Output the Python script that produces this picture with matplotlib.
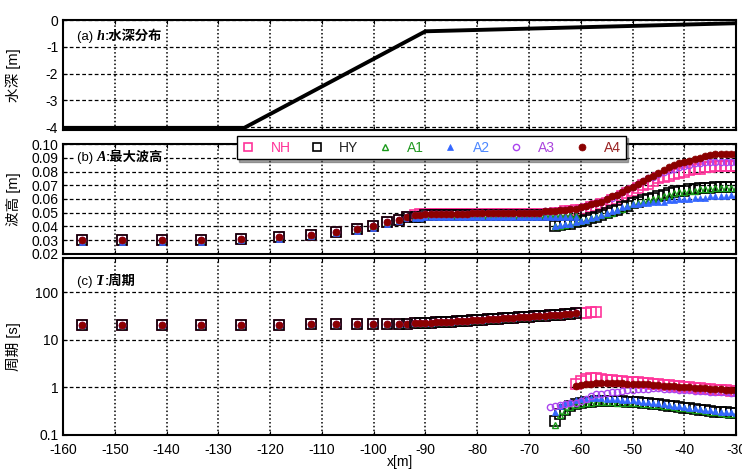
import numpy as np
import matplotlib
matplotlib.use('Agg')
import matplotlib.pyplot as plt
from matplotlib.lines import Line2D

plt.rcParams['font.family'] = ['Liberation Sans', 'Noto Sans CJK JP']

# (a) 水深分布
x_h = [-160, -125, -90, -30]
h = [-4.02, -4.02, -0.42, -0.12]

# 沖側の計測点
x_sparse = [-156.3, -148.6, -140.9, -133.3, -125.6, -118.3, -112.1, -107.3, -103.2, -100.1, -97.4, -95.1, -93.6]
A_sparse = [0.030, 0.030, 0.030, 0.030, 0.031, 0.032, 0.034, 0.036, 0.038, 0.040, 0.043, 0.045, 0.047]
A2_sparse = [0.029, 0.029, 0.029, 0.029, 0.030, 0.031, 0.033, 0.035, 0.037, 0.039, 0.042, 0.044, 0.046]
T_sparse = [20.0, 20.0, 20.0, 20.0, 20.3, 20.6, 20.9, 21.1, 21.3, 21.5, 21.7, 21.8, 21.9]

# 岸側の密な計測点
x_dense = [-92, -91, -90, -89, -88, -87, -86, -85, -84, -83,
           -82, -81, -80, -79, -78, -77, -76, -75, -74, -73,
           -72, -71, -70, -69, -68, -67, -66, -65, -64, -63,
           -62, -61, -60, -59, -58, -57, -56, -55, -54, -53,
           -52, -51, -50, -49, -48, -47, -46, -45, -44, -43,
           -42, -41, -40, -39, -38, -37, -36, -35, -34, -33,
           -32, -31, -30]
x_short = [-66, -65, -64, -63, -62, -61, -60, -59, -58, -57,
           -56, -55, -54, -53, -52, -51, -50, -49, -48, -47,
           -46, -45, -44, -43, -42, -41, -40, -39, -38, -37,
           -36, -35, -34, -33, -32, -31, -30]

# (b) 最大波高
NH_b = [0.048, 0.049, 0.049, 0.049, 0.049, 0.049, 0.049, 0.049, 0.049, 0.049,
        0.049, 0.049, 0.049, 0.049, 0.049, 0.049, 0.049, 0.049, 0.049, 0.049,
        0.049, 0.049, 0.049, 0.049, 0.049, 0.049, 0.049, 0.050, 0.050, 0.051,
        0.051, 0.052, 0.052, 0.053, 0.054, 0.055, 0.056, 0.057, 0.059, 0.060,
        0.062, 0.064, 0.066, 0.068, 0.070, 0.071, 0.073, 0.075, 0.076, 0.077,
        0.078, 0.079, 0.080, 0.081, 0.082, 0.082, 0.083, 0.083, 0.084, 0.084,
        0.084, 0.084, 0.084]
A3_b = [0.048, 0.048, 0.049, 0.049, 0.049, 0.049, 0.049, 0.049, 0.049, 0.049,
        0.049, 0.050, 0.050, 0.050, 0.050, 0.050, 0.050, 0.050, 0.050, 0.050,
        0.050, 0.050, 0.050, 0.050, 0.050, 0.051, 0.051, 0.051, 0.052, 0.052,
        0.053, 0.053, 0.054, 0.055, 0.056, 0.057, 0.058, 0.060, 0.061, 0.063,
        0.065, 0.067, 0.069, 0.071, 0.073, 0.075, 0.076, 0.078, 0.080, 0.081,
        0.082, 0.083, 0.084, 0.085, 0.086, 0.086, 0.087, 0.087, 0.087, 0.087,
        0.087, 0.087, 0.087]
A4_b = [0.048, 0.048, 0.049, 0.049, 0.049, 0.049, 0.049, 0.049, 0.049, 0.049,
        0.049, 0.050, 0.050, 0.050, 0.050, 0.050, 0.050, 0.050, 0.050, 0.050,
        0.050, 0.050, 0.050, 0.050, 0.050, 0.051, 0.051, 0.051, 0.052, 0.052,
        0.053, 0.053, 0.054, 0.055, 0.056, 0.057, 0.058, 0.060, 0.062, 0.063,
        0.065, 0.067, 0.069, 0.071, 0.073, 0.075, 0.077, 0.079, 0.081, 0.083,
        0.085, 0.086, 0.087, 0.088, 0.089, 0.090, 0.091, 0.092, 0.093, 0.093,
        0.093, 0.093, 0.093]
HY_b_long = [0.047, 0.047, 0.048, 0.048, 0.048, 0.048, 0.048, 0.048, 0.048, 0.048,
             0.048, 0.048, 0.048, 0.048, 0.048, 0.048, 0.048, 0.048, 0.048, 0.048,
             0.048, 0.048, 0.048, 0.048, 0.048, 0.048, 0.048, 0.048, 0.048, 0.048,
             0.048, 0.048]
A2_b_long = [0.046, 0.046, 0.047, 0.047, 0.047, 0.047, 0.047, 0.047, 0.047, 0.047,
             0.047, 0.047, 0.047, 0.047, 0.047, 0.047, 0.047, 0.047, 0.047, 0.047,
             0.047, 0.047, 0.047, 0.047, 0.047, 0.047, 0.047, 0.047, 0.047, 0.047,
             0.047, 0.047]
HY_b_short = [0.040, 0.041, 0.042, 0.042, 0.043, 0.044, 0.045, 0.046, 0.047, 0.048,
              0.050, 0.051, 0.052, 0.054, 0.055, 0.057, 0.058, 0.059, 0.060, 0.061,
              0.062, 0.063, 0.064, 0.065, 0.066, 0.066, 0.067, 0.067, 0.068, 0.068,
              0.068, 0.069, 0.069, 0.069, 0.069, 0.069]
A1_b_short = [0.040, 0.040, 0.041, 0.042, 0.043, 0.044, 0.045, 0.046, 0.047, 0.048,
              0.049, 0.050, 0.052, 0.053, 0.055, 0.056, 0.057, 0.058, 0.059, 0.060,
              0.061, 0.062, 0.063, 0.064, 0.065, 0.065, 0.066, 0.066, 0.067, 0.067,
              0.067, 0.068, 0.068, 0.068, 0.068, 0.068]
A2_b_short = [0.040, 0.041, 0.042, 0.042, 0.043, 0.044, 0.045, 0.046, 0.047, 0.048,
              0.050, 0.051, 0.052, 0.054, 0.055, 0.056, 0.056, 0.057, 0.057, 0.058,
              0.058, 0.058, 0.059, 0.059, 0.060, 0.060, 0.060, 0.061, 0.061, 0.061,
              0.062, 0.062, 0.062, 0.062, 0.063, 0.063]

# (c) 周期
T_long = [22.0, 22.3, 22.6, 22.9, 23.2, 23.5, 23.8, 24.1, 24.5, 24.9,
          25.3, 25.7, 26.1, 26.5, 26.9, 27.3, 27.7, 28.1, 28.6, 29.1,
          29.6, 30.1, 30.6, 31.1, 31.6, 32.1, 32.6, 33.2, 33.8, 34.4,
          35.0, 35.6]
NH_T_long = [22.0, 22.3, 22.6, 22.9, 23.2, 23.5, 23.8, 24.1, 24.5, 24.9,
             25.3, 25.7, 26.1, 26.5, 26.9, 27.3, 27.7, 28.1, 28.6, 29.1,
             29.6, 30.1, 30.6, 31.1, 31.6, 32.1, 32.6, 33.2, 33.8, 34.4,
             35.0, 35.6, 36.2, 36.8, 37.4, 38.0]
HY_T_short = [0.20, 0.28, 0.34, 0.40, 0.44, 0.47, 0.49, 0.50, 0.51, 0.52,
              0.52, 0.52, 0.51, 0.51, 0.50, 0.50, 0.49, 0.48, 0.46, 0.45,
              0.44, 0.42, 0.41, 0.40, 0.38, 0.37, 0.36, 0.35, 0.34, 0.33,
              0.32, 0.31, 0.30, 0.30, 0.29, 0.29]
A1_T_short = [0.16, 0.26, 0.32, 0.38, 0.42, 0.45, 0.47, 0.48, 0.49, 0.49,
              0.49, 0.49, 0.48, 0.48, 0.47, 0.47, 0.46, 0.45, 0.44, 0.43,
              0.42, 0.41, 0.40, 0.38, 0.37, 0.36, 0.35, 0.34, 0.33, 0.32,
              0.31, 0.30, 0.29, 0.28, 0.28, 0.27]
A2_T_short = [0.30, 0.40, 0.46, 0.50, 0.54, 0.56, 0.58, 0.59, 0.59, 0.59,
              0.58, 0.57, 0.56, 0.55, 0.54, 0.53, 0.52, 0.50, 0.49, 0.47,
              0.46, 0.44, 0.43, 0.41, 0.40, 0.38, 0.37, 0.36, 0.35, 0.34,
              0.33, 0.32, 0.31, 0.30, 0.30, 0.29]
A3_T_short = [0.38, 0.40, 0.42, 0.44, 0.46, 0.48, 0.52, 0.58, 0.65, 0.71,
              0.74, 0.76, 0.78, 0.80, 0.83, 0.87, 0.90, 0.92, 0.93, 0.94,
              0.95, 0.95, 0.94, 0.93, 0.92, 0.90, 0.88, 0.87, 0.85, 0.84,
              0.82, 0.81, 0.80, 0.79, 0.78, 0.77, 0.76]
NH_T_short = [1.15, 1.35, 1.50, 1.55, 1.55, 1.50, 1.45, 1.42, 1.38, 1.35,
              1.32, 1.30, 1.28, 1.25, 1.22, 1.18, 1.15, 1.12, 1.10, 1.07,
              1.05, 1.02, 1.00, 0.98, 0.96, 0.94, 0.92, 0.90, 0.88, 0.86,
              0.84, 0.83]
A4_T_short = [1.05, 1.12, 1.17, 1.20, 1.22, 1.23, 1.23, 1.23, 1.22, 1.21,
              1.20, 1.19, 1.18, 1.16, 1.15, 1.13, 1.11, 1.09, 1.07, 1.05,
              1.03, 1.01, 1.00, 0.98, 0.96, 0.95, 0.93, 0.92, 0.91, 0.90,
              0.89, 0.88]

names = ['NH', 'HY', 'A1', 'A2', 'A3', 'A4']
text_colors = ['#ff3399', '#222222', '#229922', '#4d88ff', '#aa44dd', '#992222']
styles = {
    'NH': dict(marker='s', mfc='none', mec='#ff3399', ms=7.5, mew=1.2),
    'HY': dict(marker='s', mfc='none', mec='black', ms=6.5, mew=1.2),
    'A1': dict(marker='^', mfc='none', mec='#1a9a1a', ms=4, mew=1.0),
    'A2': dict(marker='^', mfc='#3366ff', mec='#3366ff', ms=4.5, mew=0.5),
    'A3': dict(marker='o', mfc='none', mec='#aa44ee', ms=4.5, mew=1.0),
    'A4': dict(marker='o', mfc='#8b0000', mec='#8b0000', ms=5, mew=0.5),
}


def pts(ax, x, y, name):
    ax.plot(x, y, ls='none', **styles[name])


def tail(x, vals):
    # 岸側端(-30m)にそろえる
    return x[len(x) - len(vals):]


def panel_title(ax, prefix, sym, name, y):
    t1 = ax.text(0.02, y, prefix, transform=ax.transAxes, fontsize=9.5, va='center',
                 bbox=dict(fc='white', ec='none', pad=0.5), zorder=6)
    t2 = ax.annotate(sym, xy=(1, 0), xycoords=t1, va='bottom', fontsize=10.5,
                     family='Liberation Serif', style='italic', weight='bold',
                     bbox=dict(fc='white', ec='none', pad=0.5), zorder=6)
    ax.annotate(name, xy=(1, 0), xycoords=t2, va='bottom', fontsize=9.5, weight='bold',
                bbox=dict(fc='white', ec='none', pad=0.5), zorder=6)


def style_axes(ax):
    ax.set_xlim(-160, -30)
    ax.set_xticks(np.arange(-160, -29, 10))
    ax.yaxis.grid(True, which='major', ls=(0, (3, 2)), color='k', lw=0.9)
    ax.xaxis.grid(True, which='major', ls=(0, (1, 1.5)), color='k', lw=1.1)
    ax.tick_params(direction='in', top=True, right=True, labelsize=10, length=3)
    ax.tick_params(axis='x', pad=6)
    for s in ax.spines.values():
        s.set_linewidth(1.5)
    ax.set_axisbelow(True)


fig = plt.figure(figsize=(7.42, 4.70), dpi=100)
L, W = 0.085, 0.907
ax_a = fig.add_axes([L, 0.7234, W, 0.234])
ax_b = fig.add_axes([L, 0.4596, W, 0.234])
ax_c = fig.add_axes([L, 0.0745, W, 0.3766])

# (a)
style_axes(ax_a)
ax_a.plot(x_h, h, color='black', lw=2.8)
ax_a.set_ylim(-4.1, 0)
ax_a.set_yticks([0, -1, -2, -3, -4])
ax_a.set_yticklabels(['0', '-1', '-2', '-3', '-4'])
ax_a.set_xticklabels([])
ax_a.set_ylabel('水深 [m]', fontsize=10.5)
ax_a.yaxis.set_label_coords(-0.062, 0.5)
panel_title(ax_a, '(a) ', 'h', ':水深分布', 0.845)

# (b)
style_axes(ax_b)
sparse_b = {'NH': A_sparse, 'HY': A_sparse, 'A1': A_sparse, 'A2': A2_sparse, 'A3': A_sparse, 'A4': A_sparse}
for n in names:
    pts(ax_b, x_sparse, sparse_b[n], n)
pts(ax_b, x_dense, NH_b, 'NH')
pts(ax_b, x_dense[:len(HY_b_long)], HY_b_long, 'HY')
pts(ax_b, tail(x_short, HY_b_short), HY_b_short, 'HY')
pts(ax_b, x_dense[:len(HY_b_long)], HY_b_long, 'A1')
pts(ax_b, tail(x_short, A1_b_short), A1_b_short, 'A1')
pts(ax_b, x_dense[:len(A2_b_long)], A2_b_long, 'A2')
pts(ax_b, tail(x_short, A2_b_short), A2_b_short, 'A2')
pts(ax_b, x_dense, A3_b, 'A3')
pts(ax_b, x_dense, A4_b, 'A4')
ax_b.set_ylim(0.02, 0.10)
ax_b.set_yticks(np.arange(0.02, 0.1001, 0.01))
ax_b.set_yticklabels(['%.2f' % v for v in np.arange(0.02, 0.1001, 0.01)])
ax_b.set_xticklabels([])
ax_b.set_ylabel('波高 [m]', fontsize=10.5)
ax_b.yaxis.set_label_coords(-0.062, 0.5)
panel_title(ax_b, '(b) ', 'A', ':最大波高', 0.873)

# (c)
style_axes(ax_c)
ax_c.set_yscale('log')
for n in names:
    pts(ax_c, x_sparse, T_sparse, n)
pts(ax_c, x_dense[:len(NH_T_long)], NH_T_long, 'NH')
pts(ax_c, tail(x_short, NH_T_short), NH_T_short, 'NH')
for n in ['HY', 'A1', 'A2', 'A3']:
    pts(ax_c, x_dense[:len(T_long)], T_long, n)
pts(ax_c, tail(x_short, HY_T_short), HY_T_short, 'HY')
pts(ax_c, tail(x_short, A1_T_short), A1_T_short, 'A1')
pts(ax_c, tail(x_short, A2_T_short), A2_T_short, 'A2')
pts(ax_c, tail(x_short, A3_T_short), A3_T_short, 'A3')
pts(ax_c, x_dense[:len(T_long)], T_long, 'A4')
pts(ax_c, tail(x_short, A4_T_short), A4_T_short, 'A4')
ax_c.set_ylim(0.1, 520)
ax_c.set_yticks([0.1, 1, 10, 100])
ax_c.set_yticklabels(['0.1', '1', '10', '100'])
ax_c.yaxis.set_minor_locator(matplotlib.ticker.NullLocator())
ax_c.set_xticklabels([str(v) for v in range(-160, -29, 10)])
ax_c.set_ylabel('周期 [s]', fontsize=10.5)
ax_c.yaxis.set_label_coords(-0.062, 0.5)
ax_c.set_xlabel('x[m]', fontsize=10, va='center')
ax_c.xaxis.set_label_coords(0.5, -0.152)
panel_title(ax_c, '(c) ', 'T', ':周期', 0.864)

# 凡例
handles = [Line2D([], [], ls='none', **dict(styles[n], ms=min(styles[n]['ms'], 6))) for n in names]
leg = fig.legend(handles, names, loc='center', bbox_to_anchor=(0.581, 0.686), ncol=6,
                 fontsize=10, frameon=True, fancybox=False, shadow=True, edgecolor='black',
                 handlelength=1.0, handletextpad=1.1, columnspacing=1.4, borderpad=0.35)
leg.get_frame().set_linewidth(1.0)
for t, c in zip(leg.get_texts(), text_colors):
    t.set_color(c)

fig.savefig('out.png', dpi=100)
